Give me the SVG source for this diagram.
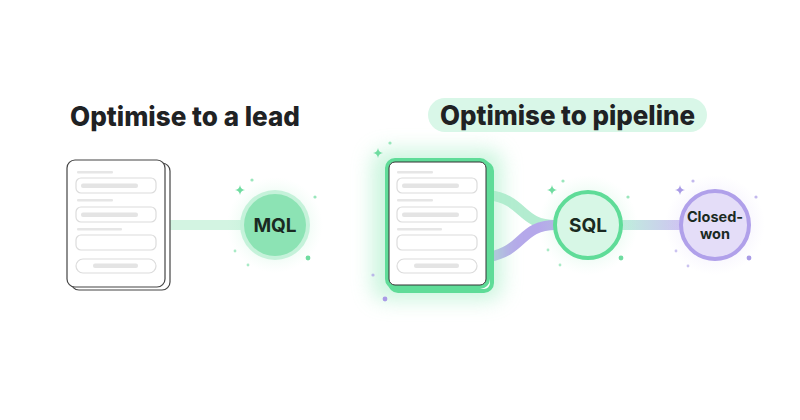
<svg xmlns="http://www.w3.org/2000/svg" width="800" height="420" viewBox="0 0 800 420">
<defs>
<style>
.title{font-family:Inter,"Liberation Sans",sans-serif;font-weight:800;font-size:27px;fill:#1f2224}
.lbl{font-family:Inter,"Liberation Sans",sans-serif;font-weight:700;fill:#1a2a22;text-anchor:middle}
.card{fill:#fff;stroke:#444;stroke-width:1.2}
.field{fill:#fff;stroke:#dcdcdc;stroke-width:1.2}
.bar{fill:#e4e4e4}
.line{fill:#e6e6e6}
.g{fill:#6fdca0}
.p{fill:#a99be6}
</style>
<radialGradient id="glowG" cx="0.5" cy="0.5" r="0.5">
<stop offset="0" stop-color="#7fe6ad" stop-opacity="0.45"/>
<stop offset="0.6" stop-color="#9cebc0" stop-opacity="0.2"/>
<stop offset="1" stop-color="#c8f5dc" stop-opacity="0"/>
</radialGradient>
<radialGradient id="glowP" cx="0.5" cy="0.5" r="0.5">
<stop offset="0" stop-color="#b9a9f0" stop-opacity="0.4"/>
<stop offset="1" stop-color="#d6ccf7" stop-opacity="0"/>
</radialGradient>
<linearGradient id="lineGP" x1="0" x2="1" y1="0" y2="0">
<stop offset="0" stop-color="#bfeedd"/>
<stop offset="1" stop-color="#cfc4f2"/>
</linearGradient>
<filter id="blur" x="-50%" y="-50%" width="200%" height="200%"><feGaussianBlur stdDeviation="10"/></filter>
<symbol id="star" viewBox="-5 -5 10 10" overflow="visible"><path d="M0,-5 Q0.6,-0.6 5,0 Q0.6,0.6 0,5 Q-0.6,0.6 -5,0 Q-0.6,-0.6 0,-5Z"/></symbol>
</defs>
<rect width="800" height="420" fill="#fff"/>

<g id="title-left"><text class="title" x="70" y="126" textLength="230" lengthAdjust="spacingAndGlyphs">Optimise to a lead</text></g>
<g id="title-right">
<rect x="428" y="98" width="279" height="34" rx="17" fill="#d9f7e8"/>
<text class="title" x="440" y="125" textLength="255" lengthAdjust="spacingAndGlyphs">Optimise to pipeline</text>
</g>

<g id="connectors">
<rect x="165" y="220" width="80" height="10" fill="#d3f4e2"/>
<path d="M489,195 C525,200 520,225 556,225" fill="none" stroke="#b3ecd0" stroke-width="10"/>
<path d="M489,257 C525,250 520,225 556,225" fill="none" stroke="#b5a8ea" stroke-width="10"/>
<rect x="622" y="220" width="60" height="10" fill="url(#lineGP)"/>
</g>

<g id="form-left">
<rect x="71" y="163" width="99" height="127" rx="8" class="card"/>
<rect x="67" y="160" width="98" height="127" rx="8" class="card"/>
<rect x="77" y="171" width="36" height="2.5" rx="1" class="line"/>
<rect x="76" y="178" width="80" height="15" rx="5" class="field"/>
<rect x="81" y="183.5" width="57" height="4.5" rx="2" class="bar"/>
<rect x="77" y="199" width="36" height="2.5" rx="1" class="line"/>
<rect x="76" y="207" width="80" height="15" rx="5" class="field"/>
<rect x="81" y="212.5" width="57" height="4.5" rx="2" class="bar"/>
<rect x="77" y="228" width="45" height="2.5" rx="1" class="line"/>
<rect x="76" y="235" width="80" height="15" rx="5" class="field"/>
<rect x="76" y="259" width="80" height="14" rx="7" class="field"/>
<rect x="93" y="263.5" width="45" height="4.5" rx="2" class="bar"/>
</g>

<g id="mql">
<circle cx="275" cy="225" r="48" fill="url(#glowG)"/>
<circle cx="275" cy="225" r="35" fill="#c5f2da"/>
<circle cx="275" cy="225" r="31" fill="#8ce3b4"/>
<text class="lbl" x="275" y="232" font-size="19">MQL</text>
<use href="#star" x="235" y="185" width="10" height="10" class="g"/>
<circle cx="252" cy="180" r="1.6" class="g" opacity="0.7"/>
<circle cx="315" cy="197" r="1.6" class="g" opacity="0.7"/>
<circle cx="235" cy="251" r="1.4" class="g" opacity="0.6"/>
<circle cx="248" cy="265" r="1.4" class="g" opacity="0.6"/>
<circle cx="308" cy="258" r="2.4" class="g"/>
</g>

<g id="form-right">
<rect x="372" y="150" width="130" height="150" rx="14" fill="#a8efc8" opacity="0.6" filter="url(#blur)"/>
<rect x="390" y="163" width="102" height="128" rx="8" fill="#fff" stroke="#5fdc98" stroke-width="4"/>
<rect x="387" y="160" width="101" height="127" rx="8" fill="#fff" stroke="#5fdc98" stroke-width="4"/>
<rect x="389" y="162" width="97" height="123" rx="6" fill="#fff" stroke="#333" stroke-width="1"/>
<rect x="397" y="171" width="36" height="2.5" rx="1" class="line"/>
<rect x="397" y="178" width="80" height="15" rx="5" class="field"/>
<rect x="402" y="183.5" width="57" height="4.5" rx="2" class="bar"/>
<rect x="397" y="199" width="36" height="2.5" rx="1" class="line"/>
<rect x="397" y="207" width="80" height="15" rx="5" class="field"/>
<rect x="402" y="212.5" width="57" height="4.5" rx="2" class="bar"/>
<rect x="397" y="228" width="45" height="2.5" rx="1" class="line"/>
<rect x="397" y="235" width="80" height="15" rx="5" class="field"/>
<rect x="397" y="259" width="80" height="14" rx="7" class="field"/>
<rect x="414" y="263.5" width="45" height="4.5" rx="2" class="bar"/>
<use href="#star" x="373" y="148" width="10" height="10" class="g"/>
<circle cx="390" cy="143" r="1.6" class="g" opacity="0.7"/>
<circle cx="373" cy="275" r="1.6" class="p" opacity="0.7"/>
<circle cx="385" cy="299" r="2.4" class="p"/>
</g>

<g id="sql">
<circle cx="588" cy="225" r="50" fill="url(#glowG)"/>
<circle cx="588" cy="225" r="33" fill="#d7f7e6" stroke="#5fdc98" stroke-width="4"/>
<text class="lbl" x="588" y="232" font-size="19">SQL</text>
<use href="#star" x="547" y="185" width="10" height="10" class="g"/>
<circle cx="563" cy="181" r="1.6" class="g" opacity="0.7"/>
<circle cx="628" cy="197" r="1.6" class="g" opacity="0.7"/>
<circle cx="548" cy="250" r="1.4" class="g" opacity="0.6"/>
<circle cx="560" cy="265" r="1.4" class="g" opacity="0.6"/>
<circle cx="621" cy="258" r="2.4" class="g"/>
</g>

<g id="closed-won">
<circle cx="715" cy="225" r="50" fill="url(#glowP)"/>
<circle cx="715" cy="225" r="34" fill="#e4ddf8" stroke="#b0a0ea" stroke-width="4"/>
<text class="lbl" x="715" y="222" font-size="14.5" font-weight="600">Closed-</text>
<text class="lbl" x="715" y="239" font-size="14.5" font-weight="600">won</text>
<use href="#star" x="675" y="185" width="10" height="10" class="p"/>
<circle cx="693" cy="181" r="1.6" class="p" opacity="0.7"/>
<circle cx="756" cy="197" r="1.6" class="p" opacity="0.7"/>
<circle cx="676" cy="251" r="1.4" class="p" opacity="0.6"/>
<circle cx="688" cy="266" r="1.4" class="p" opacity="0.6"/>
<circle cx="749" cy="258" r="2.4" class="p"/>
</g>
</svg>
